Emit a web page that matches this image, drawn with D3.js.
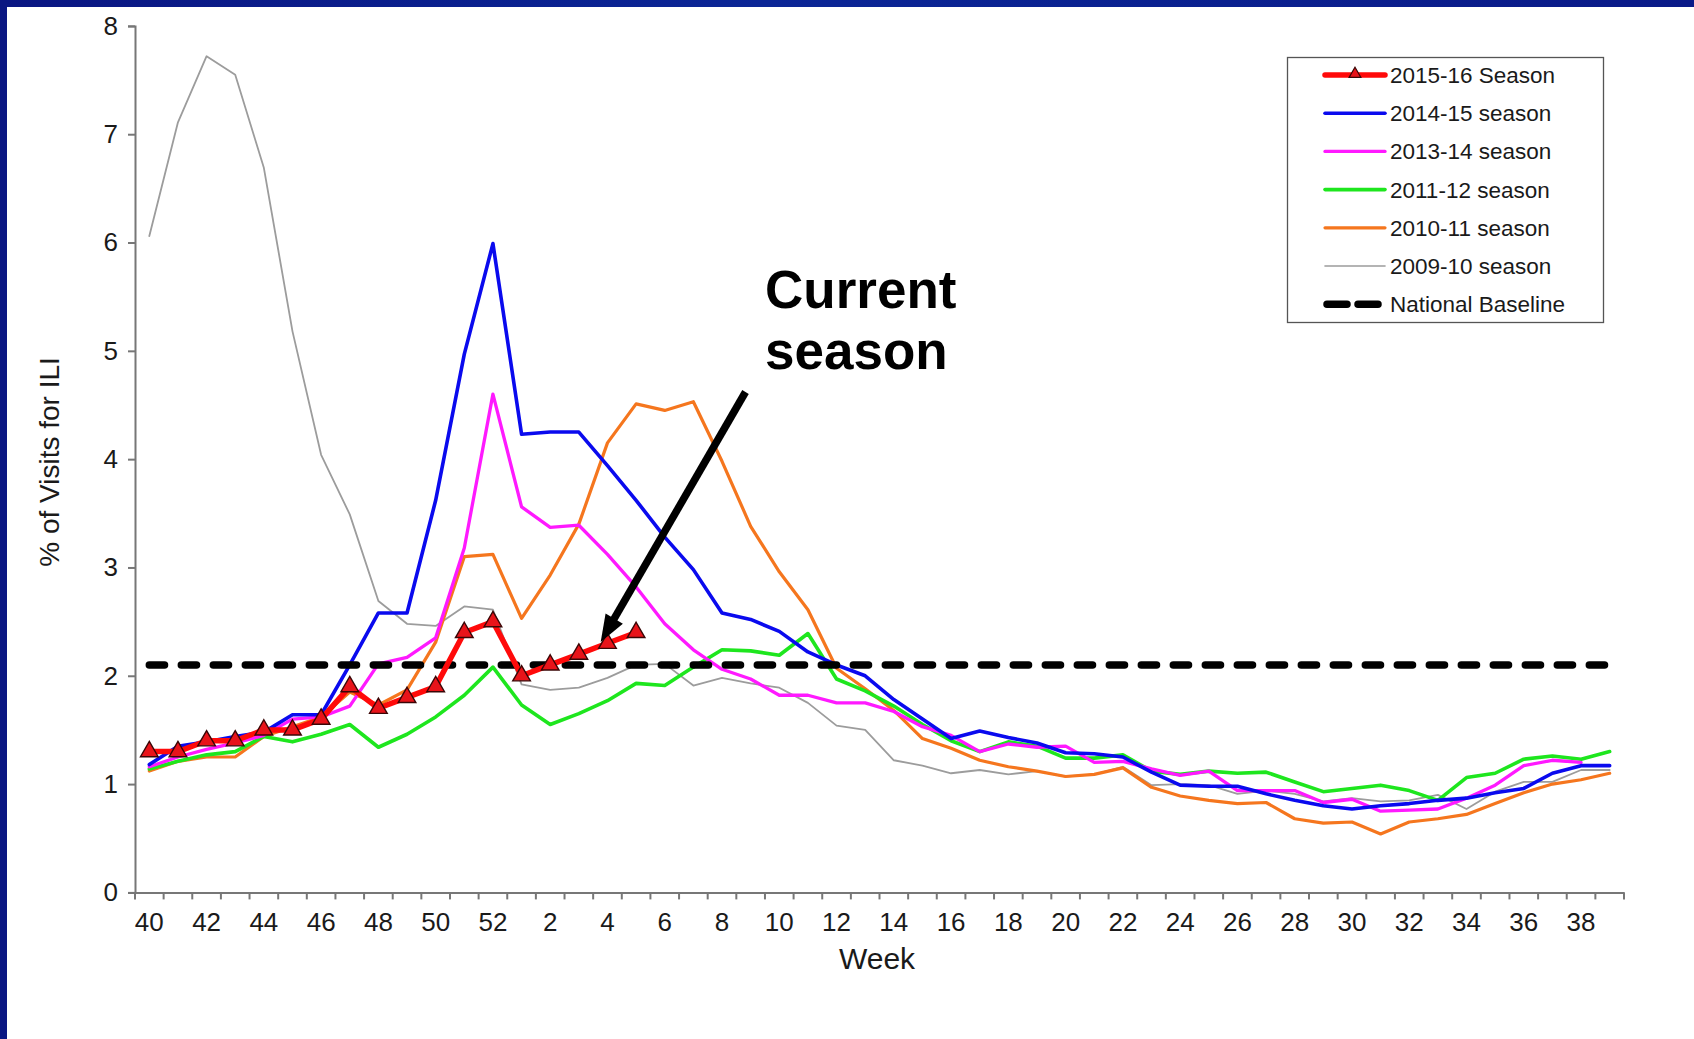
<!DOCTYPE html>
<html><head><meta charset="utf-8">
<script src="https://cdn.jsdelivr.net/npm/d3@7"></script>
<style>html,body{margin:0;padding:0;background:#fff;overflow:hidden}</style>
</head><body>
<svg id="chart" width="1694" height="1039"></svg>
<script>
// ---------- data ----------
const weeks = [40,41,42,43,44,45,46,47,48,49,50,51,52,1,2,3,4,5,6,7,8,9,10,11,12,13,14,15,16,17,18,19,20,21,22,23,24,25,26,27,28,29,30,31,32,33,34,35,36,37,38,39];
const yTicks = [0,1,2,3,4,5,6,7,8];
const seriesNames = ["2015-16 Season","2014-15 season","2013-14 season","2011-12 season","2010-11 season","2009-10 season","National Baseline"];

const season2015_16 = [1.3,1.3,1.4,1.4,1.5,1.5,1.6,1.9,1.7,1.8,1.9,2.4,2.5,2.0,2.1,2.2,2.3,2.4];
const season2014_15 = [1.18,1.35,1.39,1.44,1.48,1.64,1.64,2.1,2.58,2.58,3.62,4.97,5.99,
  4.23,4.25,4.25,3.94,3.62,3.28,2.98,2.58,2.52,2.41,2.22,2.1,2.0,1.78,1.6,1.42,1.49,1.43,1.38,1.29,1.28,1.25,1.11,0.99,0.98,0.98,0.91,0.85,0.8,0.77,0.8,0.82,0.85,0.87,0.92,0.96,1.1,1.17,1.17];
const season2013_14 = [1.16,1.25,1.32,1.38,1.45,1.6,1.62,1.72,2.11,2.17,2.35,3.18,4.6,
  3.56,3.37,3.39,3.12,2.82,2.48,2.24,2.06,1.97,1.82,1.82,1.75,1.75,1.67,1.53,1.45,1.3,1.37,1.34,1.35,1.2,1.21,1.14,1.08,1.12,0.94,0.94,0.94,0.83,0.86,0.75,0.76,0.77,0.87,0.99,1.17,1.22,1.2];
const season2011_12 = [1.14,1.21,1.27,1.3,1.44,1.39,1.46,1.55,1.34,1.46,1.62,1.82,2.08,
  1.73,1.55,1.65,1.77,1.93,1.91,2.08,2.24,2.23,2.19,2.39,1.97,1.86,1.72,1.55,1.4,1.3,1.39,1.35,1.24,1.24,1.27,1.12,1.09,1.12,1.1,1.11,1.02,0.93,0.96,0.99,0.94,0.85,1.06,1.1,1.23,1.26,1.23,1.3];
const season2010_11 = [1.12,1.21,1.25,1.25,1.44,1.53,1.62,1.85,1.73,1.87,2.31,3.1,3.12,
  2.53,2.93,3.4,4.15,4.51,4.45,4.53,3.98,3.38,2.96,2.61,2.07,1.88,1.68,1.42,1.33,1.22,1.16,1.12,1.07,1.09,1.15,0.97,0.89,0.85,0.82,0.83,0.68,0.64,0.65,0.54,0.65,0.68,0.72,0.82,0.92,1.0,1.04,1.1];
const season2009_10 = [6.06,7.11,7.72,7.55,6.69,5.18,4.04,3.49,2.69,2.48,2.46,2.64,2.61,
  1.92,1.87,1.89,1.98,2.1,2.11,1.91,1.98,1.93,1.89,1.75,1.54,1.5,1.22,1.17,1.1,1.13,1.09,1.12,1.07,1.09,1.16,0.99,1.0,0.99,0.91,0.94,0.91,0.84,0.87,0.84,0.85,0.9,0.77,0.93,1.02,1.02,1.13,1.13];
const nationalBaseline = 2.1;

// ---------- styles ----------
const FONT = "'Liberation Sans', Arial, Helvetica, sans-serif";
const styles = {
  "2015-16 Season": {color:"#ff0a0a", width:5.5},
  "2014-15 season": {color:"#0a0aee", width:3.6},
  "2013-14 season": {color:"#ff19ff", width:3.3},
  "2011-12 season": {color:"#1ee61e", width:3.6},
  "2010-11 season": {color:"#f5761e", width:3.2},
  "2009-10 season": {color:"#9c9c9c", width:1.8},
  "National Baseline": {color:"#000000", width:7.5}
};

const svg = d3.select("#chart");

// frame
const defs = svg.append("defs");
const g1 = defs.append("linearGradient").attr("id","band").attr("x1","0").attr("x2","1").attr("y1","0").attr("y2","0");
g1.append("stop").attr("offset","0").attr("stop-color","#0a1682");
g1.append("stop").attr("offset","0.45").attr("stop-color","#0b2696");
g1.append("stop").attr("offset","1").attr("stop-color","#0a1a88");
svg.append("rect").attr("x",0).attr("y",0).attr("width",1694).attr("height",1039).attr("fill","#fff");
svg.append("rect").attr("x",0).attr("y",0).attr("width",1694).attr("height",7).attr("fill","url(#band)");
svg.append("rect").attr("x",0).attr("y",0).attr("width",7).attr("height",1039).attr("fill","#0a1682");

// scales
const x = d3.scaleBand().domain(weeks.map(String)).range([135, 1624]).padding(0);
const y = d3.scaleLinear().domain([0, 8]).range([892.4, 25.9]);
const cx = (i) => x(String(weeks[i])) + x.bandwidth() / 2;

// y axis
const yAxis = svg.append("g").attr("transform", "translate(135,0)")
  .call(d3.axisLeft(y).tickValues(yTicks).tickSize(7).tickPadding(10).tickFormat(d3.format("d")));
yAxis.select(".domain").attr("stroke", "#777").attr("stroke-width", 2);
yAxis.selectAll(".tick line").attr("stroke", "#777").attr("stroke-width", 2);
yAxis.selectAll(".tick text").attr("font-family", FONT).attr("font-size", 26).attr("fill", "#1a1a1a");

// x axis (labels at category centres, ticks at category boundaries)
const xAxis = svg.append("g").attr("transform", "translate(0,892.4)")
  .call(d3.axisBottom(x).tickSize(0).tickPadding(20).tickFormat((d, i) => i % 2 === 0 ? d : ""));
xAxis.select(".domain").attr("stroke", "#777").attr("stroke-width", 2);
xAxis.selectAll(".tick text").attr("font-family", FONT).attr("font-size", 26).attr("fill", "#1a1a1a");
const boundaries = weeks.map(w => x(String(w))).concat([x.range()[1]]);
xAxis.selectAll("line.bt").data(boundaries).enter().append("line").attr("class","bt")
  .attr("x1", d => d).attr("x2", d => d).attr("y1", 0).attr("y2", 7)
  .attr("stroke", "#777").attr("stroke-width", 2);

// axis titles
svg.append("text").attr("x", 877).attr("y", 969).attr("text-anchor", "middle")
  .attr("font-family", FONT).attr("font-size", 30).attr("fill", "#1a1a1a").text("Week");
svg.append("text").attr("transform", "translate(59,462) rotate(-90)").attr("text-anchor", "middle")
  .attr("font-family", FONT).attr("font-size", 28).attr("fill", "#1a1a1a").text("% of Visits for ILI");

// lines
const line = d3.line().defined(d => d != null).x((d, i) => cx(i)).y(d => y(d));
const plotOrder = [
  ["2009-10 season", season2009_10],
  ["2010-11 season", season2010_11],
  ["2011-12 season", season2011_12],
  ["2013-14 season", season2013_14],
  ["2014-15 season", season2014_15]
];
plotOrder.forEach(([name, vals]) => {
  svg.append("path").datum(vals).attr("d", line)
    .attr("fill", "none").attr("stroke", styles[name].color).attr("stroke-width", styles[name].width)
    .attr("stroke-linejoin", "round").attr("stroke-linecap", "round");
});

// national baseline
const baseVals = weeks.map(() => nationalBaseline);
svg.append("path").datum(baseVals).attr("d", line)
  .attr("fill", "none").attr("stroke", "#000").attr("stroke-width", 7.5)
  .attr("stroke-linecap", "round").attr("stroke-dasharray", "15.2,16.8");

// current season
svg.append("path").datum(season2015_16).attr("d", line)
  .attr("fill", "none").attr("stroke", styles["2015-16 Season"].color).attr("stroke-width", 5.5)
  .attr("stroke-linejoin", "round");
const tri = d3.symbol().type(d3.symbolTriangle).size(135);
svg.selectAll("path.mk").data(season2015_16).enter().append("path").attr("class","mk")
  .attr("d", tri).attr("transform", (d, i) => `translate(${cx(i)},${y(d)})`)
  .attr("fill", "#e8141a").attr("stroke", "#3a0606").attr("stroke-width", 1.4);

// legend
const lg = svg.append("g");
lg.append("rect").attr("x", 1287.5).attr("y", 57.5).attr("width", 316).attr("height", 265)
  .attr("fill", "#fff").attr("stroke", "#555").attr("stroke-width", 1.3);
seriesNames.forEach((name, k) => {
  const yy = 75 + k * 38.2;
  const st = styles[name];
  if (name === "National Baseline") {
    lg.append("line").attr("x1", 1327).attr("x2", 1383).attr("y1", yy).attr("y2", yy)
      .attr("stroke", "#000").attr("stroke-width", 7.5).attr("stroke-linecap", "round")
      .attr("stroke-dasharray", "20,11");
  } else {
    lg.append("line").attr("x1", 1325).attr("x2", 1385).attr("y1", yy).attr("y2", yy)
      .attr("stroke", st.color).attr("stroke-width", k === 0 ? 5.5 : (k === 5 ? 1.6 : Math.max(st.width, 3.2)))
      .attr("stroke-linecap", "round");
    if (k === 0) {
      lg.append("path").attr("d", d3.symbol().type(d3.symbolTriangle).size(60))
        .attr("transform", `translate(1355,${yy - 1})`)
        .attr("fill", "#e8141a").attr("stroke", "#3a0606").attr("stroke-width", 1.2);
    }
  }
  lg.append("text").attr("x", 1390).attr("y", yy + 8)
    .attr("font-family", FONT).attr("font-size", 22.5).attr("fill", "#1a1a1a").text(name);
});

// annotation
svg.append("text").attr("x", 765).attr("y", 308).attr("font-family", FONT).attr("font-weight", "bold")
  .attr("font-size", 53).attr("fill", "#000").text("Current");
svg.append("text").attr("x", 765).attr("y", 369).attr("font-family", FONT).attr("font-weight", "bold")
  .attr("font-size", 53).attr("fill", "#000").text("season");

const ax0 = 745.5, ay0 = 392, ax1 = 600.7, ay1 = 642;
const ang = Math.atan2(ay1 - ay0, ax1 - ax0);
const headLen = 27, headHalf = 10;
const bx = ax1 - headLen * Math.cos(ang), by = ay1 - headLen * Math.sin(ang);
svg.append("line").attr("x1", ax0).attr("y1", ay0).attr("x2", bx + 3 * Math.cos(ang)).attr("y2", by + 3 * Math.sin(ang))
  .attr("stroke", "#000").attr("stroke-width", 7.5);
svg.append("path").attr("d", d3.line()([
  [ax1, ay1],
  [bx + headHalf * Math.sin(ang), by - headHalf * Math.cos(ang)],
  [bx - headHalf * Math.sin(ang), by + headHalf * Math.cos(ang)]
]) + "Z").attr("fill", "#000");
</script>
</body></html>
